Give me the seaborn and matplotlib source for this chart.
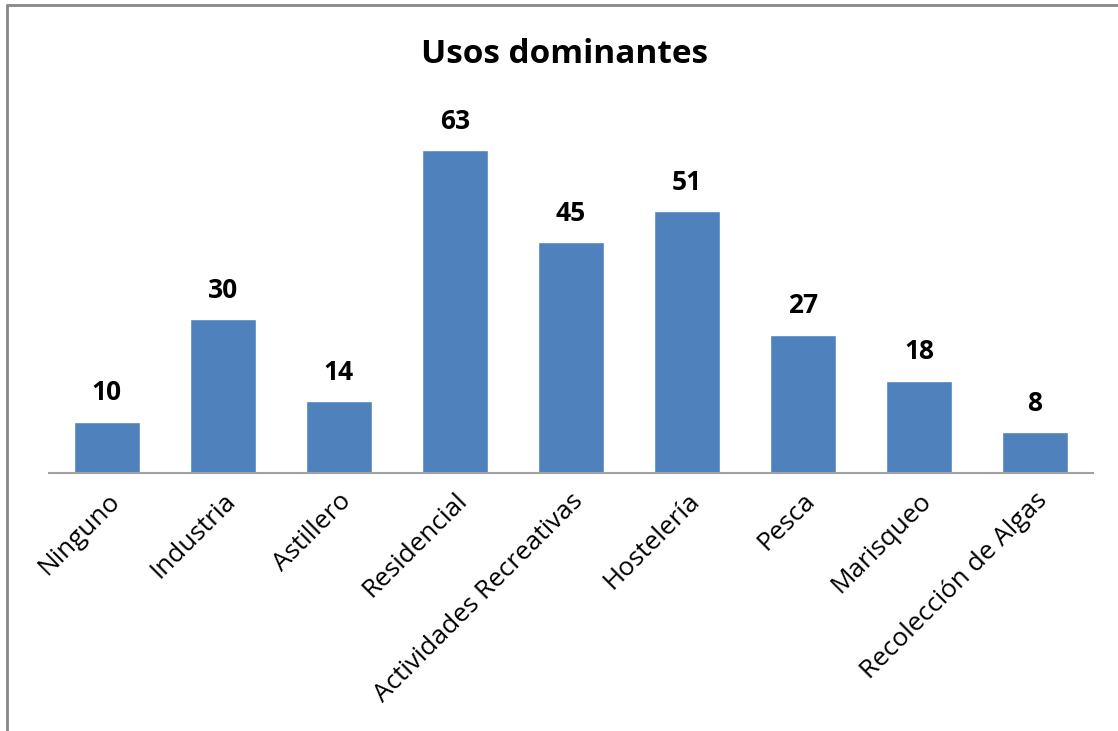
import seaborn as sns
import matplotlib.pyplot as plt
from matplotlib.lines import Line2D

categorias = ["Ninguno", "Industria", "Astillero", "Residencial",
              "Actividades Recreativas", "Hostelería", "Pesca",
              "Marisqueo", "Recolección de Algas"]
valores = [10, 30, 14, 63, 45, 51, 27, 18, 8]

sns.set_style("white")
plt.rcParams["font.family"] = ["Open Sans", "DejaVu Sans"]

fig = plt.figure(figsize=(11.18, 7.31), dpi=100)
ax = fig.add_axes([0.0438, 0.353, 0.9338, 0.491])

sns.barplot(x=categorias, y=valores, color="#4F81BD", saturation=1,
            width=0.57, ax=ax)
ax.set_ylim(0, 70)
ax.set_xlim(-0.5, len(categorias) - 0.5)

for i, v in enumerate(valores):
    ax.annotate(str(v), (i, v), xytext=(0, 11), textcoords="offset points",
                ha="center", va="bottom", fontsize=19, fontweight="bold",
                color="#000000")

ax.set_yticks([])
for s in ["left", "right", "top"]:
    ax.spines[s].set_visible(False)
ax.spines["bottom"].set_color("#a0a0a0")
ax.spines["bottom"].set_linewidth(1.5)
ax.tick_params(axis="x", length=0, pad=11, colors="#000000")
plt.setp(ax.get_xticklabels(), rotation=45, ha="right",
         rotation_mode="anchor", fontsize=18.8, color="#000000")

fig.text(0.505, 0.925, "Usos dominantes", ha="center", va="center",
         fontsize=24, fontweight="bold", color="#000000")

# borde del grafico (arriba e izquierda)
fig.add_artist(Line2D([0.0063, 1.0], [0.993, 0.993], color="#888888",
                      linewidth=2, transform=fig.transFigure))
fig.add_artist(Line2D([0.0063, 0.0063], [0.0, 0.993], color="#888888",
                      linewidth=2, transform=fig.transFigure))

fig.savefig("out.png", dpi=100)
